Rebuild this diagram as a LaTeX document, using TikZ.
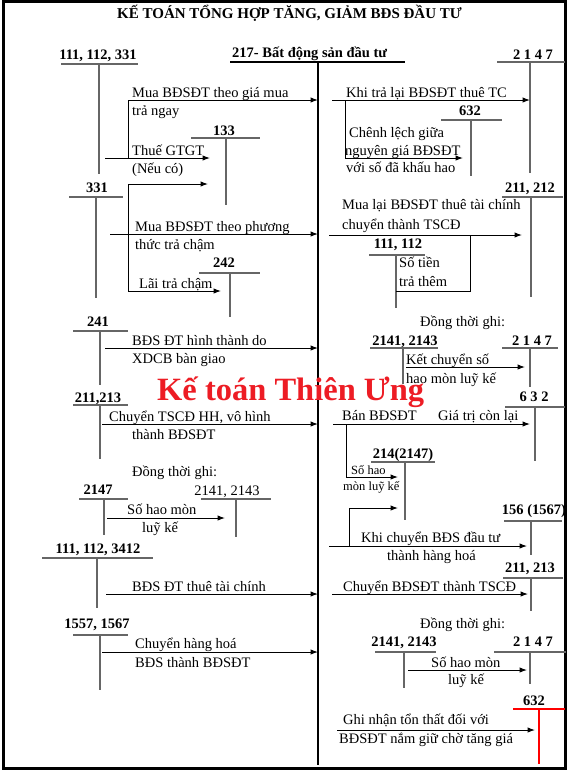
\documentclass[tikz,border=0pt]{standalone}
\usepackage{fontspec}
\setmainfont{Liberation Serif}
\usetikzlibrary{calc,arrows.meta}
\definecolor{wmred}{RGB}{237,28,36}
\def\drawt{\draw[tline]}
\def\drawarr{\draw[arr]}
\def\drawbr{\draw[br]}
\def\accnode{\node[acc]}
\def\txtnode{\node[txt]}

\begin{document}
\begin{tikzpicture}[x=1pt,y=-1pt,
  tline/.style={draw=black!60, line width=1.2pt},
  br/.style={line width=1pt},
  arr/.style={line width=1pt, -{Latex[length=7.5pt,width=5.5pt]}},
  acc/.style={font=\fontsize{14.5}{16}\selectfont\bfseries, anchor=base, inner sep=0pt},
  txt/.style={font=\fontsize{14.5}{16}\selectfont, anchor=base west, inner sep=0pt},
  small/.style={txt, font=\fontsize{12.5}{14}\selectfont}]
\useasboundingbox (0,0) rectangle (572,772);
\draw[line width=3pt] (3.5,1.5) rectangle (565.5,768.5);
\node[font=\fontsize{15}{17}\selectfont\bfseries, anchor=base, inner sep=0pt] (title) at (289.5,18) {KẾ TOÁN TỔNG HỢP TĂNG, GIẢM BĐS ĐẦU TƯ};

% the main account, all arrows on the left end on (m)
\coordinate (m) at (318,62);
\accnode[anchor=base west] (main) at (232,57) {217- Bất động sản đầu tư};
\draw[line width=1.2pt] ($(m)+(-88,0)$) -- ($(m)+(87,0)$);
\draw[line width=1.8pt] (m) -- ++(0,703);

% 111, 112, 331
\coordinate (t1) at (99,64);
\accnode (a1) at (98,59) {111, 112, 331};
\drawt ($(t1)+(-38,0)$) -- ($(t1)+(39,0)$);
\drawt (t1) -- ++(0,110);
\coordinate (k1) at (128,100);
\coordinate (s1) at (105,158);
\coordinate (e1) at (210,158);
\drawarr (k1) -- (k1 -| m);
\drawbr (k1) -- (k1 |- s1);
\drawarr (s1) -- (e1);
\txtnode (l1a) at (132,97) {Mua BĐSĐT theo giá mua};
\txtnode (l1b) at (132,115) {trả ngay};
\txtnode (l1c) at (132,155) {Thuế GTGT};
\txtnode (l1d) at (132,173) {(Nếu có)};

% 133
\coordinate (t2) at (226,138);
\accnode (a2) at (224,135) {133};
\drawt ($(t2)+(-35,0)$) -- ($(t2)+(34,0)$);
\drawt (t2) -- ++(0,67);

% 331
\coordinate (t3) at (96,197);
\accnode (a3) at (97,192) {331};
\drawt ($(t3)+(-27,0)$) -- ($(t3)+(27,0)$);
\drawt (t3) -- ++(0,101);
\coordinate (k2) at (128,184);
\coordinate (k3) at (128,291);
\coordinate (e2) at (208,184);
\coordinate (e3) at (221,291);
\drawarr (k2) -- (e2);
\drawbr (k2) -- (k3);
\drawarr (k3) -- (e3);
\coordinate (s2) at (110,234);
\drawarr (s2) -- (s2 -| m);
\txtnode (l2a) at (135,231) {Mua BĐSĐT theo phương};
\txtnode (l2b) at (135,249) {thức trả chậm};
\txtnode (l2c) at (139,288) {Lãi trả chậm};

% 242
\coordinate (t4) at (230,273);
\accnode (a4) at (224,267) {242};
\drawt ($(t4)+(-31,0)$) -- ($(t4)+(30,0)$);
\drawt (t4) -- ++(0,44);

% 241
\coordinate (t5) at (100,331);
\accnode (a5) at (98,326) {241};
\drawt ($(t5)+(-27,0)$) -- ($(t5)+(28,0)$);
\drawt (t5) -- ++(0,54);
\coordinate (s3) at (105,348);
\drawarr (s3) -- (s3 -| m);
\txtnode (l3a) at (132,345) {BĐS ĐT hình thành do};
\txtnode (l3b) at (132,363) {XDCB bàn giao};

% 211,213
\coordinate (t6) at (100,405);
\accnode (a6) at (98,402) {211,213};
\drawt ($(t6)+(-27,0)$) -- ($(t6)+(28,0)$);
\drawt (t6) -- ++(0,54);
\coordinate (s4) at (102,424);
\drawarr (s4) -- (s4 -| m);
\txtnode (l4a) at (109,421) {Chuyển TSCĐ HH, vô hình};
\txtnode (l4b) at (132,439) {thành BĐSĐT};
\txtnode (l4c) at (132,476) {Đồng thời ghi:};

% 2147 -> 2141, 2143
\coordinate (t7) at (104,499);
\accnode (a7) at (98,494) {2147};
\drawt ($(t7)+(-25,0)$) -- ($(t7)+(24,0)$);
\drawt (t7) -- ++(0,36);
\coordinate (t8) at (236,499);
\node[txt, anchor=base] (a8) at (227,495) {2141, 2143};
\drawt ($(t8)+(-35,0)$) -- ($(t8)+(35,0)$);
\drawt (t8) -- ++(0,38);
\coordinate (s5) at (107,518);
\coordinate (e5) at (225,518);
\drawarr (s5) -- (e5);
\txtnode (l5a) at (127,514) {Số hao mòn};
\txtnode (l5b) at (142,532) {luỹ kế};

% 111, 112, 3412
\coordinate (t9) at (97,558);
\accnode (a9) at (98,553) {111, 112, 3412};
\drawt ($(t9)+(-55,0)$) -- ($(t9)+(56,0)$);
\drawt (t9) -- ++(0,50);
\coordinate (s6) at (106,594);
\drawarr (s6) -- (s6 -| m);
\txtnode (l6a) at (132,591) {BĐS ĐT thuê tài chính};

% 1557, 1567
\coordinate (t10) at (100,635);
\accnode (a10) at (97,628) {1557, 1567};
\drawt ($(t10)+(-27,0)$) -- ($(t10)+(28,0)$);
\drawt (t10) -- ++(0,55);
\coordinate (s7) at (102,652);
\drawarr (s7) -- (s7 -| m);
\txtnode (l7a) at (135,648) {Chuyển hàng hoá};
\txtnode (l7b) at (135,667) {BĐS thành BĐSĐT};

% right side
% 2 1 4 7 and 632
\coordinate (r1) at (530,62);
\accnode (b1) at (533,59) {2 1 4 7};
\drawt ($(r1)+(-33,0)$) -- ($(r1)+(35,0)$);
\drawt (r1) -- ++(0,111);
\coordinate (p1) at (332,100);
\drawarr (p1) -- (p1 -| r1);
\coordinate (q1) at (345,100);
\coordinate (q1b) at (345,158);
\coordinate (f1) at (463,158);
\drawbr (q1) -- (q1b);
\drawarr (q1b) -- (f1);
\txtnode (m1a) at (346,97) {Khi trả lại BĐSĐT thuê TC};
\txtnode (m1b) at (349,137) {Chênh lệch giữa};
\txtnode (m1c) at (345,155) {nguyên giá BĐSĐT};
\txtnode (m1d) at (346,172) {với số đã khấu hao};
\coordinate (r2) at (471,120);
\accnode (b2) at (470,115) {632};
\drawt ($(r2)+(-30,0)$) -- ($(r2)+(31,0)$);
\drawt (r2) -- ++(0,56);

% 211, 212 and 111, 112
\coordinate (r3) at (531,197);
\accnode (b3) at (530,192) {211, 212};
\drawt ($(r3)+(-29,0)$) -- ($(r3)+(32,0)$);
\drawt (r3) -- ++(0,100);
\coordinate (p2) at (329,235);
\coordinate (f2) at (522,235);
\drawarr (p2) -- (f2);
\txtnode (m2a) at (342,209) {Mua lại BĐSĐT thuê tài chính};
\txtnode (m2b) at (342,229) {chuyển thành TSCĐ};
\coordinate (r4) at (396,255);
\accnode (b4) at (398,248) {111, 112};
\drawt ($(r4)+(-27,0)$) -- ($(r4)+(29,0)$);
\drawt (r4) -- ++(0,53);
\coordinate (q2) at (470,235);
\coordinate (q2b) at (470,291);
\drawbr (q2) -- (q2b) -- (q2b -| r4);
\txtnode (m2c) at (399,267) {Số tiền};
\txtnode (m2d) at (399,286) {trả thêm};

% Dong thoi ghi: 2141, 2143 -> 2 1 4 7
\txtnode (m3a) at (420,326) {Đồng thời ghi:};
\coordinate (r5) at (403,348);
\accnode (b5) at (405,345) {2141, 2143};
\drawt ($(r5)+(-33,0)$) -- ($(r5)+(35,0)$);
\drawt (r5) -- ++(0,36);
\coordinate (r6) at (530,348);
\accnode (b6) at (532,345) {2 1 4 7};
\drawt ($(r6)+(-28,0)$) -- ($(r6)+(28,0)$);
\drawt (r6) -- ++(0,39);
\coordinate (p3) at (406,367);
\coordinate (f3) at (525,367);
\drawarr (p3) -- (f3);
\txtnode (m3b) at (406,364) {Kết chuyển số};
\txtnode (m3c) at (406,383) {hao mòn luỹ kế};

% 6 3 2 and 214(2147)
\coordinate (r7) at (535,407);
\accnode (b7) at (534,401) {6 3 2};
\drawt ($(r7)+(-30,0)$) -- ($(r7)+(30,0)$);
\drawt (r7) -- ++(0,54);
\coordinate (p4) at (333,424);
\coordinate (f4) at (530,424);
\drawarr (p4) -- (f4);
\txtnode (m4a) at (342,420) {Bán BĐSĐT};
\txtnode (m4b) at (438,420) {Giá trị còn lại};
\coordinate (q3) at (346,424);
\coordinate (q3b) at (346,477);
\coordinate (f5) at (398,477);
\drawbr (q3) -- (q3b);
\drawarr (q3b) -- (f5);
\node[small] (m4c) at (351,474) {Số hao};
\node[small] (m4d) at (343,490) {mòn luỹ kế};
\coordinate (r8) at (405,462);
\accnode (b8) at (403,458) {214(2147)};
\drawt ($(r8)+(-34,0)$) -- ($(r8)+(30,0)$);
\drawt (r8) -- ++(0,58);
\coordinate (q4) at (349,546);
\coordinate (q4b) at (349,508);
\coordinate (f6) at (398,508);
\drawbr (q4) -- (q4b);
\drawarr (q4b) -- (f6);

% 156 (1567)
\coordinate (r9) at (531,521);
\accnode (b9) at (534,514) {156 (1567)};
\drawt ($(r9)+(-27,0)$) -- ($(r9)+(31,0)$);
\drawt (r9) -- ++(0,34);
\coordinate (p5) at (329,546);
\coordinate (f7) at (527,546);
\drawarr (p5) -- (f7);
\txtnode (m5a) at (361,542) {Khi chuyển BĐS đầu tư};
\txtnode (m5b) at (387,560) {thành hàng hoá};

% 211, 213
\coordinate (r10) at (531,578);
\accnode (b10) at (530,572) {211, 213};
\drawt ($(r10)+(-28,0)$) -- ($(r10)+(32,0)$);
\drawt (r10) -- ++(0,33);
\coordinate (p6) at (332,594);
\coordinate (f8) at (528,594);
\drawarr (p6) -- (f8);
\txtnode (m6a) at (343,591) {Chuyển BĐSĐT thành TSCĐ};

% Dong thoi ghi: 2141, 2143 -> 2 1 4 7
\txtnode (m7a) at (420,628) {Đồng thời ghi:};
\coordinate (r11) at (404,652);
\accnode (b11) at (404,646) {2141, 2143};
\drawt ($(r11)+(-29,0)$) -- ($(r11)+(32,0)$);
\drawt (r11) -- ++(0,36);
\coordinate (r12) at (530,652);
\accnode (b12) at (533,646) {2 1 4 7};
\drawt ($(r12)+(-36,0)$) -- ($(r12)+(36,0)$);
\drawt (r12) -- ++(0,32);
\coordinate (p7) at (408,670);
\coordinate (f9) at (527,670);
\drawarr (p7) -- (f9);
\txtnode (m7b) at (431,667) {Số hao mòn};
\txtnode (m7c) at (448,684) {luỹ kế};

% 632 in red
\coordinate (r13) at (539,709);
\accnode (b13) at (534,705) {632};
\draw[red, line width=1.2pt] ($(r13)+(-26,0)$) -- ($(r13)+(26,0)$);
\draw[red, line width=1.2pt] (r13) -- ++(0,55);
\coordinate (p8) at (337,730);
\coordinate (f10) at (535,730);
\drawarr (p8) -- (f10);
\txtnode (m8a) at (343,724) {Ghi nhận tổn thất đối với};
\txtnode (m8b) at (339,743) {BĐSĐT nắm giữ chờ tăng giá};

\node[font=\fontsize{32.5}{34}\selectfont\bfseries, text=wmred, anchor=base west, inner sep=0pt] (wm) at (157,400) {Kế toán Thiên Ưng};
\end{tikzpicture}
\end{document}
